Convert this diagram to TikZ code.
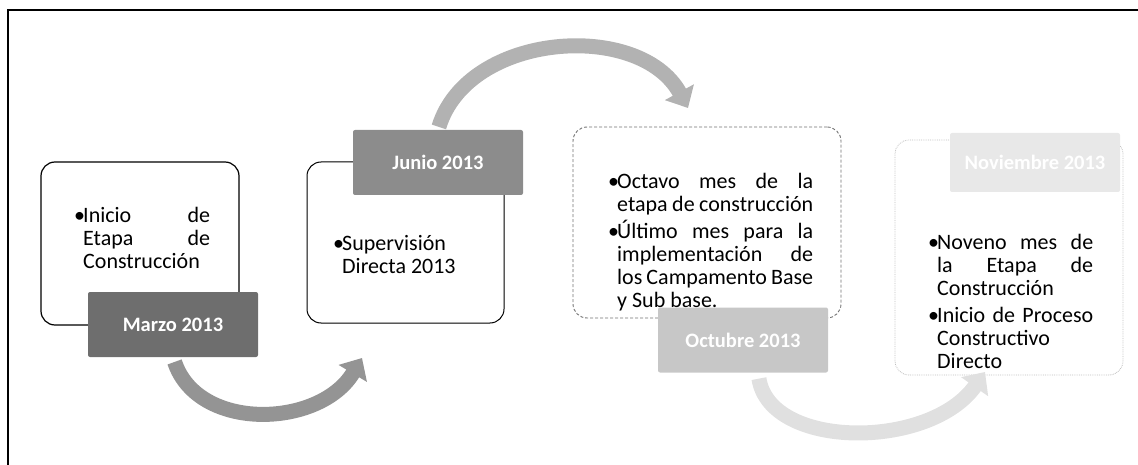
\documentclass[tikz,border=0pt]{standalone}
\usepackage{fontspec}
\setmainfont{Carlito}
\usetikzlibrary{arrows.meta}

\hyphenpenalty=10000
\exhyphenpenalty=10000
\tolerance=9999
\newcommand{\hitoitem}[1]{\par\noindent\hangindent=9pt\hangafter=1\makebox[9pt][l]{\textbullet}#1\par}

\tikzset{
  stagebox/.style={rounded corners=14pt, fill=white, inner sep=0pt},
  datebox/.style={rounded corners=2pt, inner sep=0pt, minimum width=170pt, minimum height=65pt,
    text=white, font=\bfseries\fontsize{20.5}{23}\selectfont},
  itemtext/.style={anchor=north west, inner sep=0pt, align=justify,
    font=\fontsize{22}{23}\selectfont},
  turnarrow/.style={line width=15pt, -{Triangle[length=18pt,width=32pt]}},
}

\begin{document}
\begin{tikzpicture}[x=1pt,y=-1pt]
  \useasboundingbox (0,0) rectangle (1138,465);
  \draw[line width=2.5pt] (1138,10) -- (8,10) -- (8,465);

  % etapas
  \node[stagebox, draw=black, line width=1.2pt, minimum width=198pt, minimum height=163pt] (box1) at (140,243.5) {};
  \node[stagebox, draw=black, line width=1pt, minimum width=197pt, minimum height=161pt] (box2) at (405.5,242.5) {};
  \node[stagebox, draw=black!55, line width=0.9pt, densely dashed, minimum width=268pt, minimum height=191pt] (box3) at (707,222.5) {};
  \node[stagebox, draw=black!25, line width=0.8pt, densely dotted, minimum width=228pt, minimum height=235pt] (box4) at (1009,257.5) {};

  \node[itemtext, text width=136pt] (txt1) at (74,199.5) {\hitoitem{Inicio de Etapa de Construcción}};
  \node[itemtext, text width=160pt] (txt2) at (333,227) {\hitoitem{Supervisión Directa 2013}};
  \node[itemtext, text width=205pt] (txt3) at (608,165.5) {\hitoitem{Octavo mes de la etapa de construcción}\vspace{4pt}%
    \hitoitem{Último mes para la implementación de los Campamento Base y Sub base.}};
  \node[itemtext, text width=165pt] (txt4) at (928,226.5) {\hitoitem{Noveno mes de\linebreak la Etapa de Construcción}\vspace{4pt}%
    \hitoitem{Inicio de Proceso Constructivo Directo}};

  % fechas
  \node[datebox, fill=black!57] (m1) at (173,324.5) {Marzo 2013};
  \node[datebox, fill=black!45] (m2) at (438,162.5) {Junio 2013};
  \node[datebox, fill=black!22] (m3) at (743,340) {Octubre 2013};
  \node[datebox, fill=black!9, minimum height=59pt] (m4) at (1035,162.5) {Noviembre 2013};

  % flechas
  \coordinate (a1end) at (362,358);
  \coordinate (a2end) at (688,108);
  \coordinate (a3end) at (985,372);
  \draw[turnarrow, draw=black!42, shorten <=5pt] (m1.south) .. controls +(25,75) and +(-42,70) .. (a1end);
  \draw[turnarrow, draw=black!30, shorten <=3pt] (m2.north) .. controls +(30,-98) and +(-48,-88) .. (a2end);
  \draw[turnarrow, draw=black!12, shorten <=6pt] ([xshift=15pt]m3.south) .. controls +(12,77) and +(-55,78) .. (a3end);
\end{tikzpicture}
\end{document}
